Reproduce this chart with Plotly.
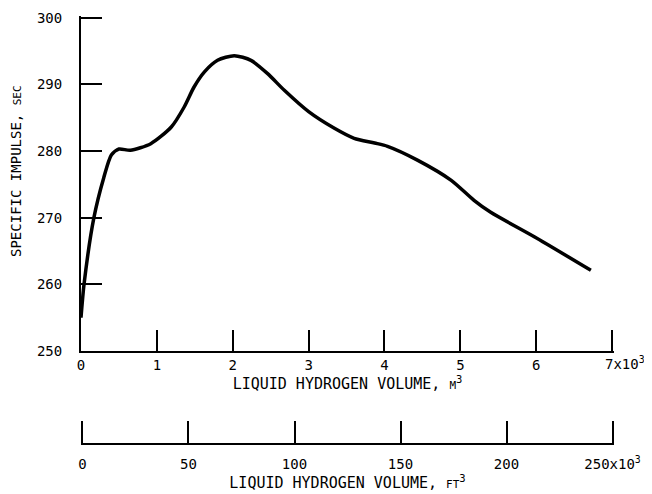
import plotly.graph_objects as go

# Data (volume in 10^3 m^3, specific impulse in sec)
vol_m3 = [0.0, 0.04, 0.17, 0.30, 0.40, 0.50, 0.65, 0.92, 1.19, 1.36, 1.49, 1.63,
          1.80, 2.02, 2.24, 2.46, 2.68, 3.00, 3.34, 3.60, 3.87, 4.04, 4.44, 4.88,
          5.18, 5.40, 5.98, 6.72]
isp_sec = [255.0, 260.0, 270.0, 276.0, 279.4, 280.3, 280.1, 281.1, 283.6, 286.6,
           289.6, 291.9, 293.6, 294.3, 293.6, 291.6, 289.1, 285.9, 283.4, 281.9,
           281.2, 280.7, 278.6, 275.6, 272.6, 270.8, 267.1, 262.1]

y_ticks = [250, 260, 270, 280, 290, 300]
x_m3_ticks = [0, 1, 2, 3, 4, 5, 6, 7]
x_m3_labels = ["0", "1", "2", "3", "4", "5", "6", ""]
x_ft3_ticks = [0, 50, 100, 150, 200, 250]
x_ft3_labels = ["0", "50", "100", "150", "200", "250x10<sup>3</sup>"]

FONT = "DejaVu Sans Mono"

fig = go.Figure()
# empty helper trace so the ft^3 axis is drawn
fig.add_trace(go.Scatter(x=x_ft3_ticks, y=[None] * len(x_ft3_ticks), xaxis="x2", yaxis="y",
                         mode="lines", showlegend=False, hoverinfo="skip"))
fig.add_trace(go.Scatter(
    x=vol_m3, y=isp_sec, mode="lines",
    line=dict(color="black", width=3.5, shape="spline", smoothing=0.7),
    showlegend=False, hoverinfo="skip"))

# page body has an 8px margin -> figure is 8px smaller than the window
W, H = 644, 486
l, r, t, b = 73, 38, 8, 11
ph = H - t - b
pb = H - b
y_dom0 = (pb - 343) / ph
pos2 = (pb - 436) / ph

axis_common = dict(showgrid=False, zeroline=False, showline=True, linecolor="black",
                   linewidth=2, ticks="inside", tickcolor="black", tickwidth=2,
                   automargin=False,
                   tickfont=dict(family=FONT, size=14, color="black"))

fig.update_layout(
    width=W, height=H,
    margin=dict(l=l, r=r, t=t, b=b),
    paper_bgcolor="white", plot_bgcolor="rgba(0,0,0,0)",
    font=dict(family=FONT, color="black"),
    xaxis=dict(range=[0, 7.025], tickmode="array", tickvals=x_m3_ticks, ticktext=x_m3_labels,
               ticklen=21, ticklabelstandoff=0,
               title=dict(text="LIQUID HYDROGEN VOLUME, <span style='font-size:11px'>M</span><sup>3</sup>",
                          font=dict(family=FONT, size=15, color="black"), standoff=0),
               **axis_common),
    yaxis=dict(range=[250, 300.25], domain=[y_dom0, 1], tickmode="array", tickvals=y_ticks,
               ticklen=21, ticklabelstandoff=14, **axis_common),
    xaxis2=dict(anchor="free", position=pos2, side="bottom", domain=[0, 1],
                range=[-0.7, 250.7], tickmode="array", tickvals=x_ft3_ticks, ticktext=x_ft3_labels,
                ticklen=22, ticklabelstandoff=7,
                title=dict(text="LIQUID HYDROGEN VOLUME, <span style='font-size:11px'>FT</span><sup>3</sup>",
                           font=dict(family=FONT, size=15, color="black"), standoff=0),
                **axis_common),
)

# y-axis title
fig.add_annotation(x=(8 - l) / (W - l - r), y=(pb - 163) / ph, xref="paper", yref="paper",
                   text="SPECIFIC IMPULSE, <span style='font-size:11px'>SEC</span>",
                   textangle=-90, showarrow=False, xanchor="center", yanchor="middle",
                   font=dict(family=FONT, size=14, color="black"))

fig.add_annotation(x=7, y=250, xref="x", yref="y", text="7x10<sup>3</sup>",
                   showarrow=False, xanchor="left", yanchor="top", yshift=-2, xshift=-8,
                   borderpad=0,
                   font=dict(family=FONT, size=14, color="black"))

fig.write_html("out.html")
